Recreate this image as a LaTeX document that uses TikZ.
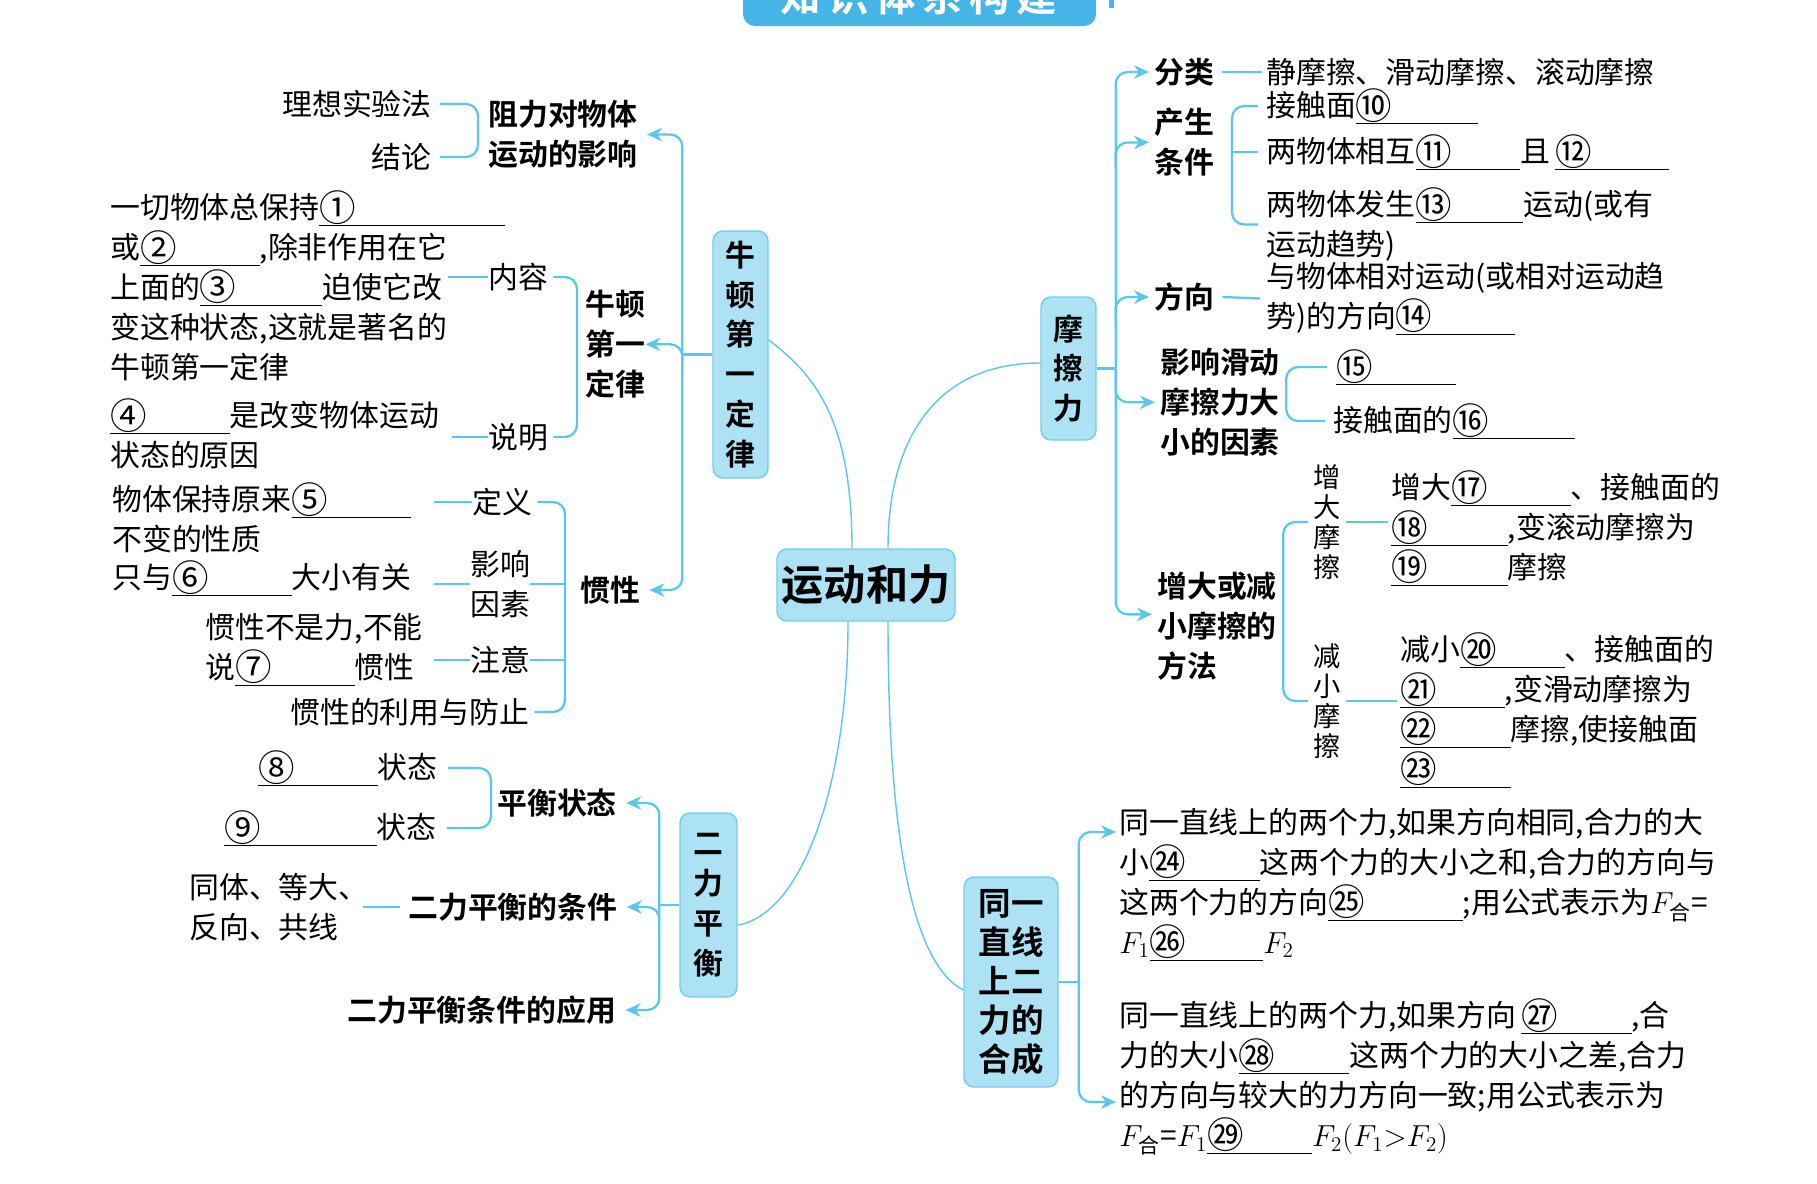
\documentclass[tikz,border=0pt]{standalone}
\usepackage{amsmath}
\usepackage{fontspec}
\setmainfont{Noto Sans CJK SC}[BoldFont={Noto Sans CJK SC Bold}]
\usetikzlibrary{calc}
\usetikzlibrary{arrows.meta}

\definecolor{mapline}{HTML}{5BC7EB}
\definecolor{boxfill}{HTML}{ADE2F5}
\definecolor{boxdraw}{HTML}{72CCEC}
\definecolor{banner}{HTML}{45B5E7}

\newcommand{\mapfont}{\fontsize{17pt}{22.7pt}\selectfont}
\newcommand{\blank}[2]{\makebox[#2][l]{\raisebox{-0.08em}{\scalebox{1.22}{#1}}}\llap{\rule[-0.24em]{#2}{0.5pt}}}

\begin{document}
\begin{tikzpicture}[x=0.2mm, y=-0.2mm,
    txt/.style={font=\mapfont, inner sep=0pt, align=left},
    key/.style={font=\mapfont\bfseries, inner sep=0pt, align=left},
    topic/.style={draw=boxdraw, fill=boxfill, line width=0.8pt, rounded corners=2mm,
      font=\mapfont\bfseries, align=center, inner sep=0pt},
    link/.style={draw=mapline, line width=1.3pt, rounded corners=2.4mm},
    branch/.style={link, -{Stealth[length=3mm, width=2.7mm]}, shorten >=1.8mm},
    stem/.style={draw=mapline, line width=0.8pt}]
    \useasboundingbox (0,0) rectangle (1817,1183);
    \fill[white] (0,0) rectangle (1817,1183);

    \begin{scope}
      \clip (0,0) rectangle (1817,1183);
      \fill[banner, rounded corners=2.4mm] (743,-40) rectangle (1096,26);
      \node[font=\fontsize{23pt}{23pt}\selectfont\bfseries, text=white] (title) at (919,-4)
        {知\,识\,体\,系\,构\,建};
      \fill[banner] (1109,0) rectangle (1114,8);
    \end{scope}

    % main topics
    \node[topic, minimum width=35.6mm, minimum height=14.4mm,
      font=\fontsize{24pt}{24pt}\selectfont\bfseries] (core) at (866,585) {运动和力};
    \node[topic, minimum width=11mm, minimum height=49.4mm] (newton) at (740.5,354.5) {牛\\顿\\第\\一\\定\\律};
    \node[topic, minimum width=11mm, minimum height=28.6mm] (friction) at (1068.5,368.5) {摩\\擦\\力};
    \node[topic, minimum width=11.4mm, minimum height=36.8mm] (balance) at (708.5,905) {二\\力\\平\\衡};
    \node[topic, minimum width=18.8mm, minimum height=42mm,
      font=\fontsize{18.5pt}{22.2pt}\selectfont\bfseries] (merge) at (1011,982) {同一\\直线\\上二\\力的\\合成};

    \draw[stem] ($(core.north)+(-14,0)$) .. controls (852,420) and (815,375) .. ([yshift=2.9mm]newton.east);
    \draw[stem] ($(core.north)+(22,0)$) .. controls (888,440) and (935,363) .. ([yshift=1.1mm]friction.west);
    \draw[stem] ($(core.south)+(-18,0)$) .. controls (848,790) and (800,915) .. ([yshift=-4mm]balance.east);
    \draw[stem] ($(core.south)+(22,0)$) .. controls (888,850) and (915,965) .. ([yshift=-1.6mm]merge.west);

    % newton's first law
    \node[txt, anchor=east] (ideal) at (432,104) {理想实验法};
    \node[txt, anchor=east] (concl) at (432,157) {结论};
    \node[key, anchor=north west] (zuli) at (488,100) {阻力对物体\\运动的影响};
    \node[txt, anchor=north west] (law) at (110,190)
      {一切物体总保持\blank{①}{6.2em}\\或\blank{②}{4em},除非作用在它\\上面的\blank{③}{4.1em}迫使它改\\变这种状态,这就是著名的\\牛顿第一定律};
    \node[txt, anchor=west] (content) at (488,277) {内容};
    \node[txt, anchor=north west] (cause) at (110,398) {\blank{④}{4em}是改变物体运动\\状态的原因};
    \node[txt, anchor=west] (explain) at (488,437) {说明};
    \node[key, anchor=north west] (lawlbl) at (585,290) {牛顿\\第一\\定律};

    \node[txt, anchor=north west] (deftext) at (112,482) {物体保持原来\blank{⑤}{4em}\\不变的性质};
    \node[txt, anchor=west] (defl) at (472,502) {定义};
    \node[txt, anchor=west] (facttext) at (112,578) {只与\blank{⑥}{4em}大小有关};
    \node[txt, anchor=north west] (factl) at (470,550) {影响\\因素};
    \node[txt, anchor=north west] (notetext) at (205,613) {惯性不是力,不能\\说\blank{⑦}{4em}惯性};
    \node[txt, anchor=west] (notel) at (470,660) {注意};
    \node[txt, anchor=west] (usel) at (290,712) {惯性的利用与防止};
    \node[key, anchor=west] (inertia) at (580,590) {惯性};

    \coordinate (lspine) at ($(newton.west)+(-30,0)$);
    \draw[link] (newton.west) -- (lspine);
    \draw[branch] (lspine) |- (zuli.east);
    \draw[branch, shorten >=0pt] ($(lspine)+(0,18)$) |- (lawlbl.east);
    \draw[branch] (lspine) |- (inertia.east);

    \coordinate (zspine) at ($(zuli.west)+(-10,0)$);
    \draw[link] ([xshift=1.6mm]ideal.east) -- (ideal.east -| zspine) -- (concl.east -| zspine) -- ([xshift=1.6mm]concl.east);
    \coordinate (nspine) at ($(lawlbl.west)+(-8,0)$);
    \draw[link] ([xshift=1mm]content.east) -- (content.east -| nspine) -- (explain.east -| nspine) -- ([xshift=1mm]explain.east);
    \draw[link] (content.west) -- ++(-40,0);
    \draw[link] (explain.west) -- ++(-36,0);

    \coordinate (ispine) at ($(inertia.west)+(-15,0)$);
    \draw[link] ([xshift=1mm]defl.east) -- (defl.east -| ispine) -- (usel.east -| ispine) -- ([xshift=1mm]usel.east);
    \draw[link] (factl.east) -- (factl.east -| ispine);
    \draw[link] (notel.east) -- (notel.east -| ispine);
    \draw[link] (defl.west) -- ++(-38,0);
    \draw[link] (factl.west) -- ++(-36,0);
    \draw[link] (notel.west) -- ++(-36,0);

    % balance of two forces
    \node[txt, anchor=west] (s8) at (258,768) {\blank{⑧}{4em}状态};
    \node[txt, anchor=west] (s9) at (224,828) {\blank{⑨}{5.1em}状态};
    \node[key, anchor=west] (balstate) at (497,803) {平衡状态};
    \node[txt, anchor=north west] (condtext) at (189,873) {同体、等大、\\反向、共线};
    \node[key, anchor=west] (condl) at (408,907) {二力平衡的条件};
    \node[key, anchor=west] (appl) at (347,1010) {二力平衡条件的应用};

    \coordinate (bspine) at ($(balance.west)+(-20,0)$);
    \draw[link] (balance.west) -- (bspine);
    \draw[branch] (bspine) |- (balstate.east);
    \draw[branch] ($(bspine)+(0,12)$) |- (condl.east);
    \draw[branch] (bspine) |- (appl.east);

    \coordinate (sspine) at ($(balstate.west)+(-6,0)$);
    \draw[link] ([xshift=2mm]s8.east) -- (s8.east -| sspine) -- (s9.east -| sspine) -- ([xshift=2mm]s9.east);
    \draw[link] ([xshift=-1.6mm]condl.west) -- ++(-37,0);

    % friction
    \node[key, anchor=west] (fenlei) at (1154,72) {分类};
    \node[txt, anchor=west] (types) at (1266,72) {静摩擦、滑动摩擦、滚动摩擦};
    \node[key, anchor=north west] (cond2) at (1154,108) {产生\\条件};
    \node[txt, anchor=west] (c10) at (1266,106) {接触面\blank{⑩}{4.1em}};
    \node[txt, anchor=west] (c11) at (1266,152) {两物体相互\blank{⑪}{3.5em}且\,\blank{⑫}{3.8em}};
    \node[txt, anchor=north west] (c13) at (1266,187) {两物体发生\blank{⑬}{3.6em}运动(或有\\运动趋势)};
    \node[key, anchor=west] (dir) at (1154,297) {方向};
    \node[txt, anchor=north west] (dirtext) at (1266,262) {与物体相对运动(或相对运动趋\\势)的方向\blank{⑭}{4em}};
    \node[key, anchor=north west] (factor2) at (1160,348) {影响滑动\\摩擦力大\\小的因素};
    \node[txt, anchor=west] (f15) at (1336,367) {\blank{⑮}{4em}};
    \node[txt, anchor=west] (f16) at (1333,421) {接触面的\blank{⑯}{4.1em}};
    \node[key, anchor=north west] (method) at (1157,572) {增大或减\\小摩擦的\\方法};
    \node[txt, font=\fontsize{15.5pt}{17pt}\selectfont, align=center] (inc) at (1327,522) {增\\大\\摩\\擦};
    \node[txt, font=\fontsize{15.5pt}{17pt}\selectfont, align=center] (dec) at (1327,701) {减\\小\\摩\\擦};
    \node[txt, anchor=north west] (inctext) at (1391,470)
      {增大\blank{⑰}{4em}、接触面的\\\blank{⑱}{3.9em},变滚动摩擦为\\\blank{⑲}{3.9em}摩擦};
    \node[txt, anchor=north west] (dectext) at (1400,632)
      {减小\blank{⑳}{3.5em}、接触面的\\\blank{㉑}{3.5em},变滑动摩擦为\\\blank{㉒}{3.7em}摩擦,使接触面\\\blank{㉓}{3.7em}};

    \coordinate (fspine) at ($(friction.east)+(19,0)$);
    \draw[link] (friction.east) -- (fspine);
    \draw[branch, shorten >=1mm] (fspine) |- (fenlei.west);
    \draw[branch, shorten >=1mm] ($(fspine |- cond2.west)+(0,25)$) |- (cond2.west);
    \draw[branch, shorten >=1mm] ($(fspine |- dir.west)+(0,25)$) |- (dir.west);
    \draw[branch, shorten >=1mm] (fspine) |- (factor2.west);
    \draw[branch, shorten >=1mm] (fspine) |- ([yshift=2.4mm]method.west);

    \draw[link] ([xshift=1.6mm]fenlei.east) -- ([xshift=-0.8mm]types.west);
    \coordinate (cspine) at ($(c10.west)+(-34,0)$);
    \draw[link] ([xshift=-1.6mm]c10.west) -- (c10.west -| cspine) -- (c13.west -| cspine) -- ([xshift=-1.6mm]c13.west);
    \draw[link] (c11.west -| cspine) -- ([xshift=-1.6mm]c11.west);
    \draw[link] ([xshift=1.6mm]dir.east) -- ([xshift=-1.2mm]dirtext.west);
    \coordinate (gspine) at ($(factor2.east)+(6,0)$);
    \draw[link] ([xshift=-1.8mm]f15.west) -- (f15.west -| gspine) -- (f16.west -| gspine) -- ([xshift=-1.6mm]f16.west);
    \coordinate (hspine) at ($(method.east)+(6,0)$);
    \draw[link] ([xshift=-1mm]inc.west) -- (inc.west -| hspine) -- (dec.west -| hspine) -- ([xshift=-1mm]dec.west);
    \draw[link] ([xshift=1mm]inc.east) -- ($(inc.east -| inctext.west)+(-3,0)$);
    \draw[link] ([xshift=1mm]dec.east) -- ($(dec.east -| dectext.west)+(-3,0)$);

    % two forces on one line
    \node[txt, anchor=north west] (sumA) at (1119,808)
      {同一直线上的两个力,如果方向相同,合力的大\\小\blank{㉔}{3.7em}这两个力的大小之和,合力的方向与\\这两个力的方向\blank{㉕}{4.5em};用公式表示为$F_{\text{合}}$=\\$F_1$\blank{㉖}{3.8em}$F_2$};
    \node[txt, anchor=north west] (sumB) at (1119,998)
      {同一直线上的两个力,如果方向\,\blank{㉗}{3.7em},合\\力的大小\blank{㉘}{3.7em}这两个力的大小之差,合力\\的方向与较大的力方向一致;用公式表示为\\$F_{\text{合}}$=$F_1$\blank{㉙}{3.5em}$F_2(F_1{>}F_2)$};

    \coordinate (mspine) at ($(merge.east)+(20,0)$);
    \coordinate (tipA) at (1116,832);
    \coordinate (tipB) at (1116,1102);
    \draw[link] (merge.east) -- (mspine);
    \draw[branch, shorten >=0pt] (mspine) |- (tipA);
    \draw[branch, shorten >=0pt] (mspine) |- (tipB);
\end{tikzpicture}
\end{document}
